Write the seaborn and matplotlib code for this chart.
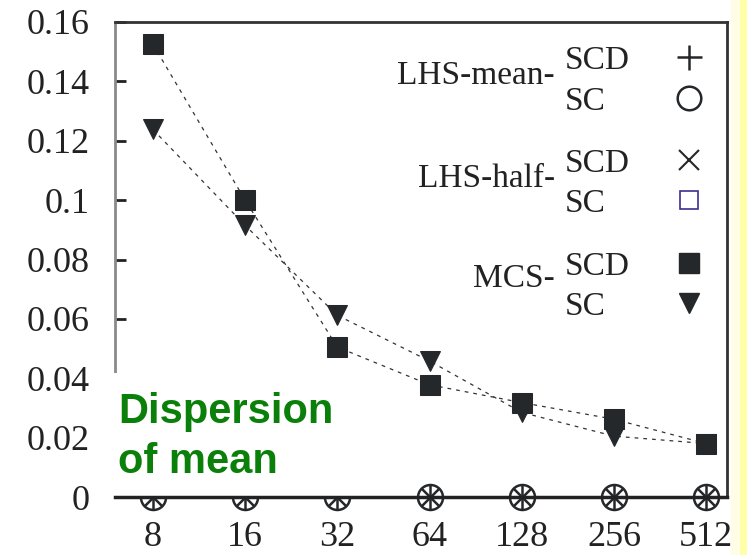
import numpy as np
import pandas as pd
import seaborn as sns
import matplotlib.pyplot as plt
from matplotlib.patches import Rectangle

# ---- data ----
samples = [8, 16, 32, 64, 128, 256, 512]
x_labels = ["8", "16", "32", "64", "128", "256", "512"]
mcs_scd = [0.1525, 0.1000, 0.0505, 0.0378, 0.0318, 0.0262, 0.0180]
mcs_sc = [0.1238, 0.0915, 0.0612, 0.0458, 0.0285, 0.0205, 0.0180]
lhs_mean_scd = [0.0, 0.0, 0.0, 0.0, 0.0, 0.0, 0.0]
lhs_mean_sc = [0.0, 0.0, 0.0, 0.0, 0.0, 0.0, 0.0]
lhs_half_scd = [0.0, 0.0, 0.0, 0.0, 0.0, 0.0, 0.0]
y_ticks = [0, 0.02, 0.04, 0.06, 0.08, 0.1, 0.12, 0.14, 0.16]
y_labels = ["0", "0.02", "0.04", "0.06", "0.08", "0.1", "0.12", "0.14", "0.16"]

df = pd.DataFrame({
    "lx": np.log2(samples),
    "mcs_scd": mcs_scd, "mcs_sc": mcs_sc,
    "lhs_mean_scd": lhs_mean_scd, "lhs_mean_sc": lhs_mean_sc,
    "lhs_half_scd": lhs_half_scd,
})

sns.set_theme(style="ticks")
plt.rcParams["font.family"] = ["Liberation Serif", "DejaVu Serif"]

DARK = "#25282b"
fig = plt.figure(figsize=(7.47, 5.55), dpi=100)
ax = fig.add_axes([115 / 747, 58 / 555, 612 / 747, 475 / 555])

# yellow band on the right
fig.patches.append(Rectangle((731 / 747, 0), 9 / 747, 1, transform=fig.transFigure,
                             facecolor="#fffde6", edgecolor="none", zorder=0))
fig.patches.append(Rectangle((740 / 747, 0), 7 / 747, 1, transform=fig.transFigure,
                             facecolor="#ffffa8", edgecolor="none", zorder=0))

# LHS series (all at zero)
kw0 = dict(linestyle="none", zorder=3, clip_on=False)
sns.lineplot(data=df, x="lx", y="lhs_mean_sc", ax=ax, marker="o", markersize=18,
             markerfacecolor="none", markeredgecolor=DARK, markeredgewidth=1.8, **kw0)
sns.lineplot(data=df, x="lx", y="lhs_mean_scd", ax=ax, marker="+", markersize=18,
             markeredgecolor=DARK, markeredgewidth=1.8, **kw0)
sns.lineplot(data=df, x="lx", y="lhs_half_scd", ax=ax, marker="x", markersize=13,
             markeredgecolor=DARK, markeredgewidth=1.8, **kw0)

# MCS series
dash = (0, (3, 4))
sns.lineplot(data=df, x="lx", y="mcs_sc", ax=ax, color="#333333", linewidth=0.9,
             linestyle=dash, marker="v", markersize=14, markerfacecolor=DARK,
             markeredgecolor=DARK, zorder=6)
sns.lineplot(data=df, x="lx", y="mcs_scd", ax=ax, color="#333333", linewidth=0.9,
             linestyle=dash, marker="s", markersize=15, markerfacecolor=DARK,
             markeredgecolor=DARK, zorder=6)

ax.set_xlim(2.589, 9.226)
ax.set_ylim(0, 0.16)
ax.set_xticks(np.log2(samples))
ax.set_xticklabels(x_labels)
ax.set_yticks(y_ticks)
ax.set_yticklabels(y_labels)
ax.set_xlabel("")
ax.set_ylabel("")
ax.tick_params(axis="y", direction="in", length=8, width=2, color="#222222",
               labelsize=26, pad=18, labelcolor="#222222")
ax.tick_params(axis="x", length=0, labelsize=26, pad=17, labelcolor="#222222")

for side in ["top", "right", "bottom", "left"]:
    ax.spines[side].set_visible(True)
ax.spines["left"].set_color("#8a8a8a")
ax.spines["left"].set_linewidth(2)
ax.spines["left"].set_zorder(2)
ax.spines["top"].set_color("#333333")
ax.spines["top"].set_linewidth(2)
ax.spines["right"].set_color("#333333")
ax.spines["right"].set_linewidth(2)
ax.spines["bottom"].set_color("#222222")
ax.spines["bottom"].set_linewidth(2.5)
ax.spines["bottom"].set_zorder(8)

# white box behind the annotation (covers lower-left corner)
ax.add_patch(Rectangle((-0.02, 0.0), 0.412, 0.261, transform=ax.transAxes,
                       facecolor="white", edgecolor="none", zorder=4, clip_on=False))
ax.text(0.005, 0.222, "Dispersion\nof mean", transform=ax.transAxes, ha="left", va="top",
        fontsize=30, fontweight="bold", color="#0a800a", linespacing=1.35,
        family=["Liberation Sans", "DejaVu Sans"], zorder=9)

# custom legend
tfs = 24
dy = -0.008
rows = {"SCD1": 0.926, "SC1": 0.840, "SCD2": 0.709, "SC2": 0.625, "SCD3": 0.493, "SC3": 0.408}
groups = [("LHS-mean-", 0.895), ("LHS-half-", 0.678), ("MCS-", 0.467)]
for name, gy in groups:
    ax.text(0.719, gy + dy, name, transform=ax.transAxes, ha="right", va="center",
            fontsize=tfs, color="#222222")
for key, ry in rows.items():
    lab = "SCD" if key.startswith("SCD") else "SC"
    ax.text(0.735, ry + dy, lab, transform=ax.transAxes, ha="left", va="center",
            fontsize=tfs, color="#222222")
mx = 0.938
ax.plot([mx], [rows["SCD1"]], transform=ax.transAxes, marker="+", markersize=18,
        markeredgewidth=1.8, color=DARK, linestyle="none")
ax.plot([mx], [rows["SC1"]], transform=ax.transAxes, marker="o", markersize=17,
        markerfacecolor="none", markeredgewidth=1.8, color=DARK, linestyle="none")
ax.plot([mx], [rows["SCD2"]], transform=ax.transAxes, marker="x", markersize=14,
        markeredgewidth=1.5, color=DARK, linestyle="none")
ax.plot([mx], [rows["SC2"]], transform=ax.transAxes, marker="s", markersize=13,
        markerfacecolor="none", markeredgecolor="#3b2f8f", markeredgewidth=1.2,
        linestyle="none")
ax.plot([mx], [rows["SCD3"]], transform=ax.transAxes, marker="s", markersize=15,
        color=DARK, linestyle="none")
ax.plot([mx], [rows["SC3"]], transform=ax.transAxes, marker="v", markersize=14,
        color=DARK, linestyle="none")

fig.savefig("out.png", dpi=100)
